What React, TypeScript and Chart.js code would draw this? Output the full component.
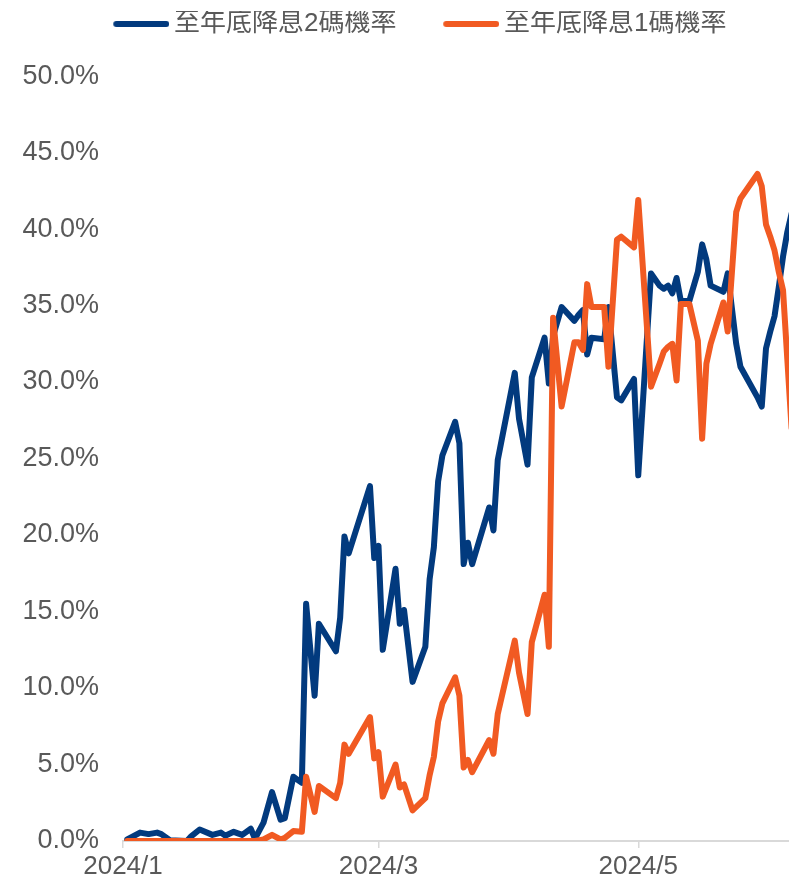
import React, { useEffect, useRef } from 'react';
import { Chart, registerables } from 'chart.js';

Chart.register(...registerables);

const SERIES_LABELS = ['至年底降息2碼機率', '至年底降息1碼機率'];
const SERIES_COLORS = ['#023A7E', '#F15A22'];

const DATES = [
  '2024-01-02', '2024-01-05', '2024-01-07', '2024-01-09', '2024-01-10', '2024-01-12',
  '2024-01-16', '2024-01-17', '2024-01-19', '2024-01-22', '2024-01-24', '2024-01-25',
  '2024-01-27', '2024-01-29', '2024-01-31', '2024-02-01', '2024-02-03', '2024-02-05',
  '2024-02-07', '2024-02-08', '2024-02-10', '2024-02-12', '2024-02-13', '2024-02-15',
  '2024-02-16', '2024-02-20', '2024-02-21', '2024-02-22', '2024-02-23', '2024-02-28',
  '2024-02-29', '2024-03-01', '2024-03-02', '2024-03-05', '2024-03-06', '2024-03-07',
  '2024-03-09', '2024-03-12', '2024-03-13', '2024-03-14', '2024-03-15', '2024-03-16',
  '2024-03-19', '2024-03-20', '2024-03-21', '2024-03-22', '2024-03-23', '2024-03-27',
  '2024-03-28', '2024-03-29', '2024-04-02', '2024-04-03', '2024-04-05', '2024-04-06',
  '2024-04-09', '2024-04-10', '2024-04-11', '2024-04-13', '2024-04-16', '2024-04-17',
  '2024-04-18', '2024-04-19', '2024-04-20', '2024-04-23', '2024-04-24', '2024-04-26',
  '2024-04-27', '2024-04-30', '2024-05-01', '2024-05-04', '2024-05-06', '2024-05-07',
  '2024-05-08', '2024-05-09', '2024-05-10', '2024-05-11', '2024-05-13', '2024-05-15',
  '2024-05-16', '2024-05-17', '2024-05-18', '2024-05-21', '2024-05-22', '2024-05-24',
  '2024-05-25', '2024-05-29', '2024-05-30', '2024-05-31', '2024-06-01', '2024-06-02',
  '2024-06-03', '2024-06-04', '2024-06-05', '2024-06-06',
];

// 至年底降息2碼機率 (%)
const CUT_2_PROB = [
  0.1, 0.55, 0.45, 0.55, 0.45, 0.05,
  0.0, 0.3, 0.75, 0.4, 0.55, 0.35,
  0.6, 0.4, 0.8, 0.15, 1.2, 3.2,
  1.4, 1.5, 4.2, 3.8, 15.5, 9.5,
  14.2, 12.4, 14.6, 19.9, 18.8, 23.2,
  18.5, 19.3, 12.5, 17.8, 14.2, 15.1,
  10.4, 12.7, 17.1, 19.2, 23.5, 25.2,
  27.4, 26.0, 18.1, 19.5, 18.1, 21.8,
  20.3, 24.9, 30.6, 27.6, 24.6, 30.3,
  32.9, 29.9, 33.0, 34.9, 34.0, 34.4,
  34.7, 31.8, 32.9, 32.8, 34.9, 29.0,
  28.8, 30.2, 23.9, 37.1, 36.3, 36.1,
  36.3, 35.8, 36.8, 35.3, 35.3, 37.2,
  39.0, 38.0, 36.3, 35.9, 37.1, 32.5,
  31.0, 29.0, 28.4, 32.2, 33.3, 34.3,
  36.2, 38.2, 39.8, 41.0,
];

// 至年底降息1碼機率 (%)
const CUT_1_PROB = [
  0.0, 0.0, 0.0, 0.0, 0.0, 0.0,
  0.0, 0.0, 0.0, 0.0, 0.0, 0.0,
  0.0, 0.0, 0.0, 0.0, 0.1, 0.4,
  0.1, 0.2, 0.65, 0.6, 4.2, 1.9,
  3.6, 2.8, 3.8, 6.3, 5.7, 8.1,
  5.4, 5.8, 2.9, 5.0, 3.5, 3.7,
  2.0, 2.8, 4.3, 5.5, 7.8, 9.0,
  10.7, 9.5, 4.8, 5.3, 4.5, 6.6,
  5.7, 8.3, 13.1, 11.0, 8.3, 13.0,
  16.1, 12.7, 34.2, 28.4, 32.6, 32.6,
  32.1, 36.4, 34.9, 34.9, 31.0, 39.3,
  39.5, 38.8, 41.9, 29.7, 31.2, 32.0,
  32.3, 32.5, 30.1, 35.1, 35.1, 32.7,
  26.3, 31.2, 32.5, 35.2, 33.3, 41.1,
  42.0, 43.6, 42.8, 40.3, 39.5, 38.6,
  37.2, 36.0, 31.5, 27.0,
];

const X_TICK_DATES = ['2024-01-01', '2024-03-01', '2024-05-01'];
const X_TICK_LABELS = ['2024/1', '2024/3', '2024/5'];
const AXIS_START_DATE = '2024-01-01';
const AXIS_VISIBLE_DAYS = 156.4;
const Y_MIN = 0;
const Y_MAX = 51.9;
const Y_STEP = 5;

const FONT_FAMILY = "'Liberation Sans', Arial, 'Noto Sans CJK TC', sans-serif";
const TEXT_COLOR = '#595959';
const AXIS_COLOR = '#D9D9D9';

function dayOffset(s: string): number {
  const [y, m, d] = s.split('-').map(Number);
  const [y0, m0, d0] = AXIS_START_DATE.split('-').map(Number);
  return (Date.UTC(y, m - 1, d) - Date.UTC(y0, m0 - 1, d0)) / 86400000;
}

function makeLegendLine(color: string): HTMLCanvasElement {
  const c = document.createElement('canvas');
  c.width = 111;
  c.height = 8;
  const g = c.getContext('2d')!;
  g.strokeStyle = color;
  g.lineWidth = 6;
  g.lineCap = 'round';
  g.beginPath();
  g.moveTo(58, 4);
  g.lineTo(108, 4);
  g.stroke();
  return c;
}

export default function App() {
  const ref = useRef<HTMLCanvasElement | null>(null);

  useEffect(() => {
    document.body.style.margin = '0';
    const canvas = ref.current;
    if (!canvas) return;

    Chart.defaults.font.family = FONT_FAMILY;
    Chart.defaults.color = TEXT_COLOR;

    const series = [CUT_2_PROB, CUT_1_PROB];
    const legendImgs = SERIES_COLORS.map(makeLegendLine);
    const tickValues = X_TICK_DATES.map(dayOffset);

    const datasets = series.map((vals, i) => ({
      label: SERIES_LABELS[i],
      data: DATES.map((d, j) => ({ x: dayOffset(d), y: vals[j] })),
      borderColor: SERIES_COLORS[i],
      backgroundColor: SERIES_COLORS[i],
      borderWidth: 6,
      borderJoinStyle: 'round' as const,
      borderCapStyle: 'round' as const,
      pointRadius: 0,
      tension: 0,
      fill: false,
      order: i === 0 ? 1 : 0,
    }));

    const chart = new Chart(canvas, {
      type: 'line',
      data: { datasets },
      options: {
        responsive: false,
        animation: false,
        layout: { padding: { top: 11, left: 4, right: 0, bottom: 0 } },
        plugins: {
          tooltip: { enabled: false },
          legend: {
            position: 'top',
            align: 'center',
            labels: {
              usePointStyle: true,
              pointStyleWidth: 94.5,
              padding: 0,
              color: TEXT_COLOR,
              font: { size: 26, family: FONT_FAMILY },
              generateLabels: (ch: any) =>
                ch.data.datasets.map((ds: any, i: number) => ({
                  text: ds.label,
                  fillStyle: ds.borderColor,
                  strokeStyle: ds.borderColor,
                  lineWidth: 0,
                  pointStyle: legendImgs[i],
                  hidden: false,
                  datasetIndex: i,
                  fontColor: TEXT_COLOR,
                })),
            },
          },
        },
        scales: {
          x: {
            type: 'linear',
            min: 0,
            max: AXIS_VISIBLE_DAYS,
            afterBuildTicks: (scale: any) => {
              scale.ticks = tickValues.map((v) => ({ value: v }));
            },
            afterFit: (scale: any) => {
              scale.height = 44;
            },
            grid: {
              display: true,
              drawOnChartArea: false,
              drawTicks: true,
              tickLength: 7,
              color: AXIS_COLOR,
              lineWidth: 1.5,
            },
            border: { display: true, color: AXIS_COLOR, width: 2 },
            ticks: {
              autoSkip: false,
              maxRotation: 0,
              padding: 3,
              color: TEXT_COLOR,
              font: { size: 26, family: FONT_FAMILY },
              callback: (v: any) => {
                const idx = tickValues.indexOf(Number(v));
                return idx >= 0 ? X_TICK_LABELS[idx] : '';
              },
            },
          },
          y: {
            type: 'linear',
            min: Y_MIN,
            max: Y_MAX,
            afterFit: (scale: any) => {
              scale.width = 119;
            },
            grid: { display: false },
            border: { display: false },
            ticks: {
              stepSize: Y_STEP,
              includeBounds: false,
              padding: 16,
              color: TEXT_COLOR,
              font: { size: 27, family: FONT_FAMILY },
              callback: (v: any) => Number(v).toFixed(1) + '%',
            },
          },
        },
      },
    } as any);

    return () => chart.destroy();
  }, []);

  return (
    <div style={{ width: 789, height: 885 }}>
      <canvas ref={ref} width={789} height={885} style={{ display: 'block' }} />
    </div>
  );
}
